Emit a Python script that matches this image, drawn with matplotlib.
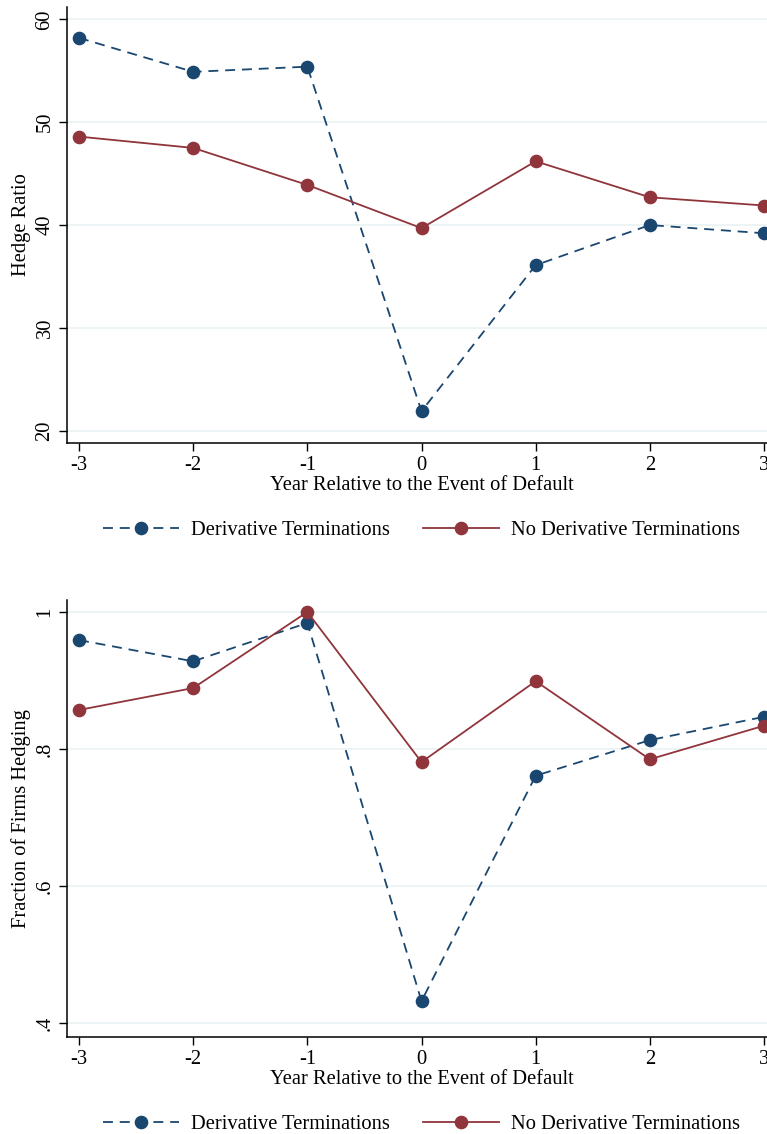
import numpy as np
import matplotlib.pyplot as plt

plt.rcParams['font.family'] = ['Liberation Serif', 'DejaVu Serif']

years = [-3, -2, -1, 0, 1, 2, 3]

hedge_deriv = [58.2, 54.9, 55.4, 21.9, 36.1, 40.0, 39.2]
hedge_noderiv = [48.6, 47.5, 43.9, 39.7, 46.2, 42.7, 41.9]

frac_deriv = [0.959, 0.928, 0.984, 0.432, 0.761, 0.813, 0.847]
frac_noderiv = [0.857, 0.889, 1.0, 0.781, 0.899, 0.785, 0.834]

hedge_ticks = [20, 30, 40, 50, 60]
hedge_ticklabels = ['20', '30', '40', '50', '60']
frac_ticks = [0.4, 0.6, 0.8, 1.0]
frac_ticklabels = ['.4', '.6', '.8', '1']

navy = '#1a476f'
maroon = '#90353b'
grid_c = '#eaf2f3'
fs = 14.8

fig = plt.figure(figsize=(7.67, 11.34), dpi=100)
ax1 = fig.add_axes([0.0874, 0.6093, 0.9243, 0.3845])
ax2 = fig.add_axes([0.0874, 0.0855, 0.9243, 0.3854])


def panel(ax, d, nd, ticks, labels, ylim, ylabel):
    for t in ticks:
        ax.axhline(t, color=grid_c, lw=1.2, zorder=0)
    ax.plot(years, d, color=navy, lw=1.3, dashes=(5.5, 3.8), marker='o',
            ms=8.8, label='Derivative Terminations', zorder=3)
    ax.plot(years, nd, color=maroon, lw=1.3, marker='o', ms=8.8,
            label='No Derivative Terminations', zorder=3)
    ax.set_xlim(-3.105, 3.105)
    ax.set_ylim(*ylim)
    ax.set_xticks(years)
    ax.set_xticklabels([str(y) for y in years], fontsize=fs)
    ax.set_yticks(ticks)
    ax.set_yticklabels(labels, fontsize=fs, rotation=90, va='center')
    ax.tick_params(direction='out', length=6, width=1, pad=3)
    for s in ['top', 'right']:
        ax.spines[s].set_visible(False)
    for s in ['left', 'bottom']:
        ax.spines[s].set_linewidth(1.1)
    ax.set_xlabel('Year Relative to the Event of Default', fontsize=fs, labelpad=1)
    ax.set_ylabel(ylabel, fontsize=fs, labelpad=3)
    ax.legend(loc='center', bbox_to_anchor=(0.5, -0.2), ncol=2, frameon=False,
              fontsize=fs, handlelength=3.7, columnspacing=1.6, handletextpad=0.6)


panel(ax1, hedge_deriv, hedge_noderiv, hedge_ticks, hedge_ticklabels,
      (18.8, 61.2), 'Hedge Ratio')
panel(ax2, frac_deriv, frac_noderiv, frac_ticks, frac_ticklabels,
      (0.3796, 1.0175), 'Fraction of Firms Hedging')

fig.savefig('out.png', dpi=100)
